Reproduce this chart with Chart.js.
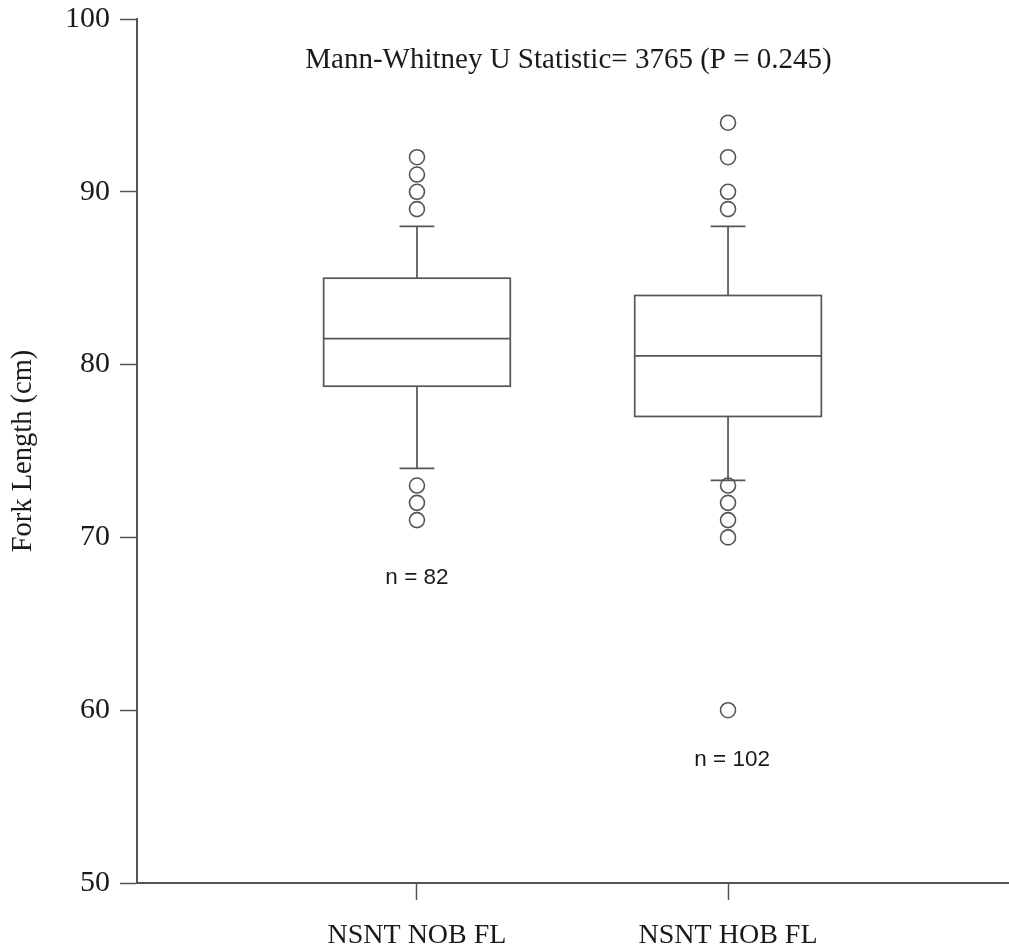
<!DOCTYPE html>
<html lang="en">
<head>
    <meta charset="UTF-8">
    <title>Fork Length box plot</title>
    <script src="https://cdn.jsdelivr.net/npm/chart.js@4.4.0/dist/chart.umd.min.js"></script>
    <style>
        html, body { margin: 0; padding: 0; background: #fff; overflow: hidden; }
        #boxChart { display: block; }
    </style>
</head>
<body>
    <canvas id="boxChart" width="1009" height="951"></canvas>

    <script>
        // Data
        const groups = ['NSNT NOB FL', 'NSNT HOB FL'];
        const groupX = [1, 2];
        const lowerWhisker = [74, 73.3];
        const q1 = [78.75, 77];
        const median = [81.5, 80.5];
        const q3 = [85, 84];
        const upperWhisker = [88, 88];
        const outliers = [
            [92, 91, 90, 89, 73, 72, 71],
            [94, 92, 90, 89, 73, 72, 71, 70, 60]
        ];
        const sampleSizes = [82, 102];
        const yTicks = [50, 60, 70, 80, 90, 100];
        const statText = 'Mann-Whitney U Statistic= 3765 (P = 0.245)';

        const lineColor = '#555';
        const textColor = '#1a1a1a';
        const serif = '"Liberation Serif", "Times New Roman", serif';
        const sans = '"Liberation Sans", Arial, sans-serif';

        // outlier points for the scatter dataset
        const outlierPoints = [];
        outliers.forEach((list, i) => {
            list.forEach(v => outlierPoints.push({ x: groupX[i], y: v }));
        });

        // boxes, whiskers and labels drawn through the chart scales
        const boxPlugin = {
            id: 'boxes',
            beforeDatasetsDraw(chart) {
                const { ctx, scales: { x, y } } = chart;
                const boxHalf = 0.3;
                const capHalf = 0.056;
                ctx.save();
                ctx.strokeStyle = lineColor;
                ctx.lineWidth = 1.7;
                groupX.forEach((gx, i) => {
                    const xl = x.getPixelForValue(gx - boxHalf);
                    const xr = x.getPixelForValue(gx + boxHalf);
                    const xc = x.getPixelForValue(gx);
                    const cl = x.getPixelForValue(gx - capHalf);
                    const cr = x.getPixelForValue(gx + capHalf);
                    const yq1 = y.getPixelForValue(q1[i]);
                    const yq3 = y.getPixelForValue(q3[i]);
                    const ym = y.getPixelForValue(median[i]);
                    const ylo = y.getPixelForValue(lowerWhisker[i]);
                    const yhi = y.getPixelForValue(upperWhisker[i]);

                    ctx.strokeRect(xl, yq3, xr - xl, yq1 - yq3);
                    ctx.beginPath();
                    ctx.moveTo(xl, ym); ctx.lineTo(xr, ym);
                    ctx.moveTo(xc, yq3); ctx.lineTo(xc, yhi);
                    ctx.moveTo(cl, yhi); ctx.lineTo(cr, yhi);
                    ctx.moveTo(xc, yq1); ctx.lineTo(xc, ylo);
                    ctx.moveTo(cl, ylo); ctx.lineTo(cr, ylo);
                    ctx.stroke();
                });
                ctx.restore();
            },
            afterDraw(chart) {
                const { ctx, scales: { x, y } } = chart;
                ctx.save();
                ctx.fillStyle = textColor;
                ctx.textAlign = 'center';
                ctx.textBaseline = 'middle';

                ctx.font = '29px ' + serif;
                ctx.fillText(statText, x.getPixelForValue(1.487), y.getPixelForValue(97.63));

                ctx.font = '22.5px ' + sans;
                ctx.fillText('n = ' + sampleSizes[0], x.getPixelForValue(1.0), y.getPixelForValue(67.65));
                ctx.fillText('n = ' + sampleSizes[1], x.getPixelForValue(2.013), y.getPixelForValue(57.12));
                ctx.restore();
            }
        };

        new Chart(document.getElementById('boxChart'), {
            type: 'scatter',
            data: {
                datasets: [{
                    label: 'Outliers',
                    data: outlierPoints,
                    pointStyle: 'circle',
                    pointRadius: 7.5,
                    pointHoverRadius: 7.5,
                    borderColor: lineColor,
                    backgroundColor: 'rgba(255,255,255,0)',
                    borderWidth: 1.6
                }]
            },
            options: {
                responsive: false,
                animation: false,
                events: [],
                layout: {
                    autoPadding: false,
                    padding: { top: 19, right: 1, bottom: 0, left: 0 }
                },
                plugins: {
                    legend: { display: false },
                    tooltip: { enabled: false }
                },
                scales: {
                    x: {
                        type: 'linear',
                        min: 0.1,
                        max: 2.9,
                        afterBuildTicks(axis) {
                            axis.ticks = groupX.map(v => ({ value: v }));
                        },
                        afterFit(axis) {
                            axis.height = 68;
                            axis.paddingLeft = 0;
                            axis.paddingRight = 0;
                        },
                        ticks: {
                            callback: (v) => groups[groupX.indexOf(v)] || '',
                            color: textColor,
                            font: { family: serif, size: 28 },
                            padding: 19,
                            maxRotation: 0,
                            autoSkip: false
                        },
                        grid: {
                            drawOnChartArea: false,
                            drawTicks: true,
                            tickLength: 17,
                            tickColor: lineColor,
                            tickWidth: 1.5
                        },
                        border: { color: lineColor, width: 2 }
                    },
                    y: {
                        min: 50,
                        max: 100,
                        afterBuildTicks(axis) {
                            axis.ticks = yTicks.map(v => ({ value: v }));
                        },
                        afterFit(axis) {
                            axis.width = 137;
                            axis.paddingTop = 0;
                            axis.paddingBottom = 0;
                        },
                        title: {
                            display: true,
                            text: 'Fork Length (cm)',
                            color: textColor,
                            font: { family: serif, size: 28.5 },
                            padding: { top: 6, bottom: 0 }
                        },
                        ticks: {
                            color: textColor,
                            font: { family: serif, size: 30 },
                            padding: 10
                        },
                        grid: {
                            drawOnChartArea: false,
                            drawTicks: true,
                            tickLength: 17,
                            tickColor: lineColor,
                            tickWidth: 1.5
                        },
                        border: { color: lineColor, width: 2 }
                    }
                }
            },
            plugins: [boxPlugin]
        });
    </script>
</body>
</html>
